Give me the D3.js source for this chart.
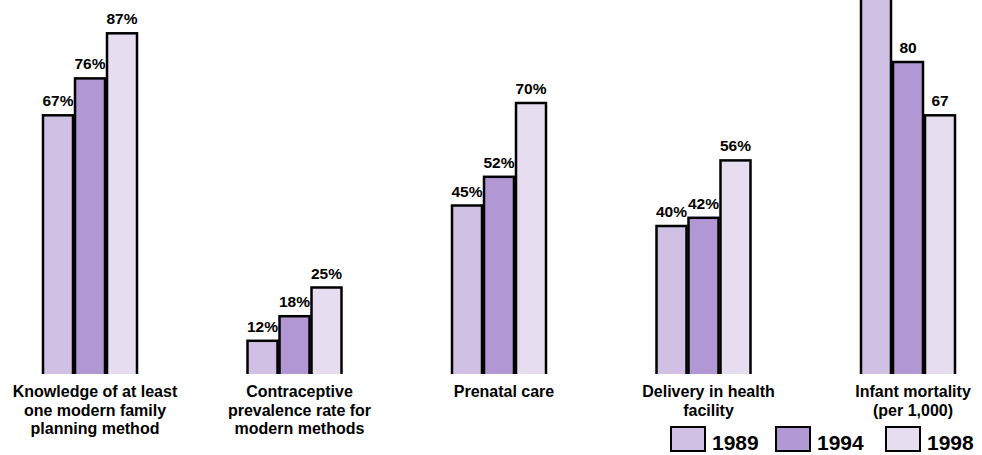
<!DOCTYPE html>
<html>
<head>
<meta charset="utf-8">
<script src="https://cdn.jsdelivr.net/npm/d3@7"></script>
<style>
  body { margin: 0; background: #fff; }
  text { font-family: "Liberation Sans", Arial, sans-serif; font-weight: bold; fill: #000; }
</style>
</head>
<body>
<div id="canvas"></div>
<script>
// categories, one label line per entry
var categories = [
    ["Knowledge of at least", "one modern family", "planning method"],
    ["Contraceptive", "prevalence rate for", "modern methods"],
    ["Prenatal care"],
    ["Delivery in health", "facility"],
    ["Infant mortality", "(per 1,000)"]
];
var years = ["1989", "1994", "1998"];
var v1989 = [67, 12, 45, 40, 96];
var v1994 = [76, 18, 52, 42, 80];
var v1998 = [87, 25, 70, 56, 67];
var suffix = ["%", "%", "%", "%", ""];
var colors = ["#d0c0e4", "#b197d3", "#e6def0"];

var width = 982, height = 455;

var svg = d3.select('#canvas')
    .append('svg')
    .attr('width', width)
    .attr('height', height);

// bars are cut off just above the category labels
svg.append('clipPath').attr('id', 'plotclip')
    .append('rect')
    .attr('x', 0).attr('y', 0)
    .attr('width', width).attr('height', 374);

var x = d3.scalePoint()
    .domain(d3.range(categories.length))
    .range([90, 908]);

var inner = d3.scaleBand()
    .domain(years)
    .range([-48, 48]);

var y = d3.scaleLinear()
    .domain([0, 100])
    .range([390, -20]);

var series = [v1989, v1994, v1998];

var plot = svg.append('g').attr('clip-path', 'url(#plotclip)');

series.forEach(function(vals, s){
    vals.forEach(function(v, i){
        plot.append('rect')
            .attr('x', x(i) + inner(years[s]) + 1)
            .attr('y', y(v))
            .attr('width', inner.bandwidth() - 2)
            .attr('height', y(0) - y(v))
            .style('fill', colors[s])
            .style('stroke', '#000')
            .style('stroke-width', 2.5);
    });
});

// value labels (the one above the top edge is not shown, as in the original)
series.forEach(function(vals, s){
    vals.forEach(function(v, i){
        if (y(v) - 9 < 14) return;
        svg.append('text')
            .attr('x', x(i) + inner(years[s]) + inner.bandwidth() / 2)
            .attr('y', y(v) - 9)
            .attr('text-anchor', 'middle')
            .style('font-size', '15.5px')
            .text(v + suffix[i]);
    });
});

// category labels
categories.forEach(function(lines, i){
    var t = svg.append('text')
        .attr('text-anchor', 'middle')
        .style('font-size', '16px');
    lines.forEach(function(line, k){
        t.append('tspan')
            .attr('x', x(i) + 5)
            .attr('y', 397 + k * 18.7)
            .text(line);
    });
});

// legend
var legX = [671, 776, 886];
years.forEach(function(yr, s){
    svg.append('rect')
        .attr('x', legX[s])
        .attr('y', 427)
        .attr('width', 34)
        .attr('height', 24)
        .style('fill', colors[s])
        .style('stroke', '#000')
        .style('stroke-width', 2);
    svg.append('text')
        .attr('x', legX[s] + 41)
        .attr('y', 450)
        .style('font-size', '21px')
        .text(yr);
});
</script>
</body>
</html>
